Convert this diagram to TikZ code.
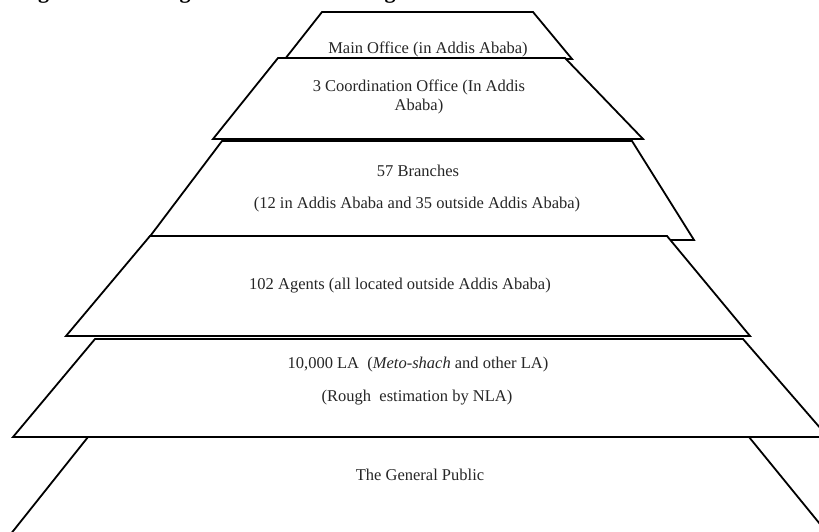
\documentclass[tikz,border=0pt]{standalone}
\usepackage{fontspec}
\setmainfont{Liberation Serif}
\begin{document}
\begin{tikzpicture}[x=1pt,y=-1pt,
  tier/.style={draw=black, line width=1.8pt, fill=white, line join=miter},
  label/.style={anchor=base, inner sep=0pt, text=black!85, font=\fontsize{16.5}{19}\selectfont, align=center},
  titlefrag/.style={anchor=base, inner sep=0pt, font=\bfseries\fontsize{22}{26}\selectfont}]
\useasboundingbox (0,0) rectangle (819,531);
\clip (0,0) rectangle (819,531);
\fill[white] (0,0) rectangle (819,531);
% cut-off title fragments (only their descenders show, as in the reference)
\node[titlefrag] (g1) at (43.5,-2) {g};
\node[titlefrag] (g2) at (185,-2) {g};
\node[titlefrag] (g3) at (390,-2) {g};
% tiers
\draw[tier] (322,12) -- (533,12) -- (572,59) -- (285,59) -- cycle;
\draw[tier] (278,58) -- (565,58) -- (643,139) -- (213,139) -- cycle;
\draw[tier] (222,141) -- (632,141) -- (694,240) -- (148,239) -- cycle;
\draw[tier] (150,236) -- (667,236) -- (750,336) -- (66,336) -- cycle;
\draw[tier] (95,339) -- (743,339) -- (828,437) -- (13,437) -- cycle;
\fill[white] (6,540) -- (88,437) -- (749,437) -- (833,540) -- cycle;
\draw[line width=1.8pt, line join=miter] (6,540) -- (88,437) -- (749,437) -- (833,540);
% labels
\node[label] (t1) at (428,53) {Main Office (in Addis Ababa)};
\node[label, anchor=north] (t2) at (419,80) {3 Coordination Office (In Addis\\Ababa)};
\node[label] (t3a) at (418,176) {57 Branches};
\node[label] (t3b) at (417,208) {(12 in Addis Ababa and 35 outside Addis Ababa)};
\node[label] (t4) at (400,289) {102 Agents (all located outside Addis Ababa)};
\node[label] (t5a) at (418,368) {10,000 LA\ \ (\textit{Meto-shach} and other LA)};
\node[label] (t5b) at (417,401) {(Rough\ \ estimation by NLA)};
\node[label] (t6) at (420,480) {The General Public};
\end{tikzpicture}
\end{document}
